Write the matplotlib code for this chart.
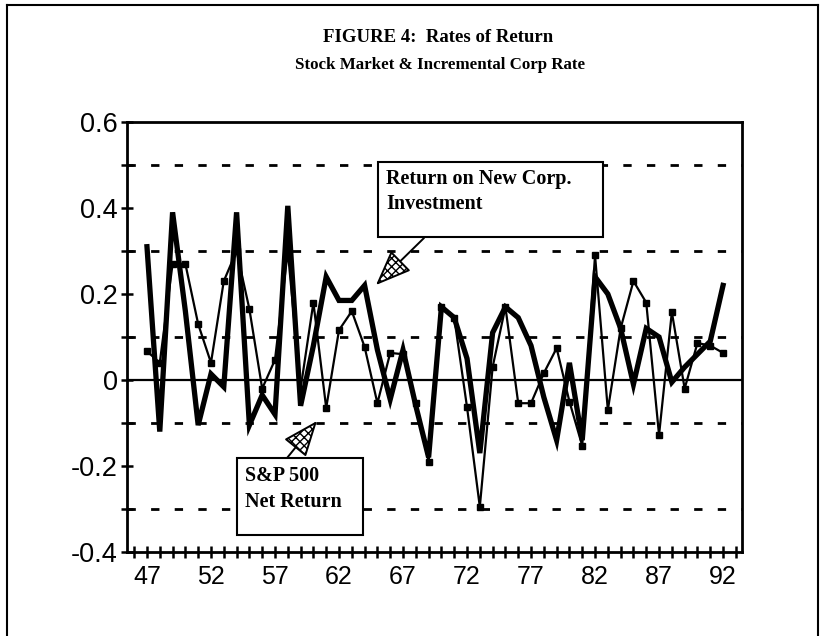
"""
Figure 4: rates of return, stock market vs incremental corporate rate.
"""
import matplotlib
matplotlib.use("Agg")
import matplotlib.pyplot as plt
from matplotlib.patches import Rectangle
from matplotlib.lines import Line2D

# data
years = list(range(47, 93))
corp_return = [0.31, -0.12, 0.39, 0.16, -0.105, 0.014, -0.016, 0.39, -0.105,
               -0.035, -0.08, 0.405, -0.06, 0.08, 0.24, 0.185, 0.185, 0.22,
               0.07, -0.045, 0.07, -0.06, -0.18, 0.17, 0.145, 0.05, -0.17,
               0.11, 0.17, 0.145, 0.08, -0.04, -0.14, 0.04, -0.14, 0.24, 0.2,
               0.12, -0.01, 0.12, 0.10, -0.005, 0.03, 0.06, 0.09, 0.22]
sp500_return = [0.067, 0.04, 0.27, 0.27, 0.13, 0.04, 0.23, 0.30, 0.165,
                -0.02, 0.047, 0.30, -0.02, 0.18, -0.065, 0.116, 0.16, 0.077,
                -0.054, 0.063, 0.06, -0.054, -0.19, 0.17, 0.145, -0.063,
                -0.295, 0.03, 0.17, -0.054, -0.054, 0.016, 0.074, -0.05,
                -0.153, 0.29, -0.07, 0.12, 0.23, 0.18, -0.128, 0.158, -0.02,
                0.086, 0.08, 0.063]
x_tick_years = list(range(46, 94))
x_label_years = [47, 52, 57, 62, 67, 72, 77, 82, 87, 92]
y_ticks = [-0.4, -0.3, -0.2, -0.1, 0.0, 0.1, 0.2, 0.3, 0.4, 0.5, 0.6]
y_labels = ["-0.4", "", "-0.2", "", "0", "", "0.2", "", "0.4", "", "0.6"]
dashed_levels = [-0.3, -0.1, 0.1, 0.3, 0.5]

W, H = 823, 636


def px(x, y):
    """pixel position (from top-left) -> figure fraction"""
    return x / W, 1 - y / H


def callout(left, top, right, bottom, lines, baselines, tail, tip):
    x0, y1 = px(left, bottom)
    x1, y0 = px(right, top)
    fig.patches.append(Rectangle((x0, y1), x1 - x0, y0 - y1,
                                 transform=fig.transFigure, fc="white",
                                 ec="black", lw=1.5, zorder=5))
    for txt, yb in zip(lines, baselines):
        fig.text(*px(left + 8, yb), txt, ha="left", va="baseline",
                 family=serif, weight="bold", size=14.5, zorder=6)
    ax.annotate("", xy=px(*tip), xytext=px(*tail),
                xycoords="figure fraction", textcoords="figure fraction",
                arrowprops=arrow_kw, annotation_clip=False, zorder=6)


fig = plt.figure(figsize=(W / 100, H / 100), dpi=100)
ax = fig.add_axes([127 / W, 1 - 552 / H, (742 - 127) / W, (552 - 122) / H])

for lvl in dashed_levels:
    ax.axhline(lvl, color="black", lw=2, dashes=(3, 5.5), zorder=1)
ax.axhline(0, color="black", lw=1.6, zorder=1)

ax.plot(years, corp_return, color="black", lw=3.8, solid_joinstyle="miter",
        zorder=3)
ax.plot(years, sp500_return, color="black", lw=1.6, marker="s", ms=4.5,
        zorder=4)

ax.set_xlim(45.44, 93.48)
ax.set_ylim(-0.4, 0.6)
ax.set_xticks(x_tick_years)
ax.set_xticklabels([str(y) if y in x_label_years else "" for y in x_tick_years])
ax.set_yticks(y_ticks)
ax.set_yticklabels(y_labels)

for lab in ax.get_xticklabels():
    lab.set_fontfamily("Liberation Sans")
    lab.set_fontsize(18)
for lab in ax.get_yticklabels():
    lab.set_fontfamily("Liberation Sans")
    lab.set_fontsize(19.5)
ax.tick_params(axis="x", direction="inout", length=8, width=1.8, pad=5)
ax.tick_params(axis="y", direction="inout", length=9, width=1.8, pad=2)
for sp in ax.spines.values():
    sp.set_linewidth(2)

# title
serif = "Liberation Serif"
fig.text(*px(438, 38), "FIGURE 4:  Rates of Return", ha="center", va="center",
         family=serif, weight="bold", size=13.5)
fig.text(*px(440, 65), "Stock Market & Incremental Corp Rate", ha="center",
         va="center", family=serif, weight="bold", size=12.2)

arrow_kw = dict(arrowstyle="-|>,head_length=0.8,head_width=0.32",
                mutation_scale=28, lw=1.4, fc="white", ec="black",
                hatch="xxxx", shrinkA=0, shrinkB=0)

callout(378, 162, 603, 237, ["Return on New Corp.", "Investment"],
        [184, 209], tail=(424, 238), tip=(376, 285))
callout(237, 458, 363, 535, ["S&P 500", "Net Return"],
        [481, 507], tail=(287, 458), tip=(317, 421))

# outer frame (top, left, right)
for a, b in [((7, 4.5), (818, 4.5)), ((7, 4.5), (7, 640)),
             ((818, 4.5), (818, 640))]:
    (xa, ya), (xb, yb) = px(*a), px(*b)
    fig.lines.append(Line2D([xa, xb], [ya, yb], transform=fig.transFigure,
                            color="black", lw=1.5))

fig.savefig("out.png", dpi=100)
